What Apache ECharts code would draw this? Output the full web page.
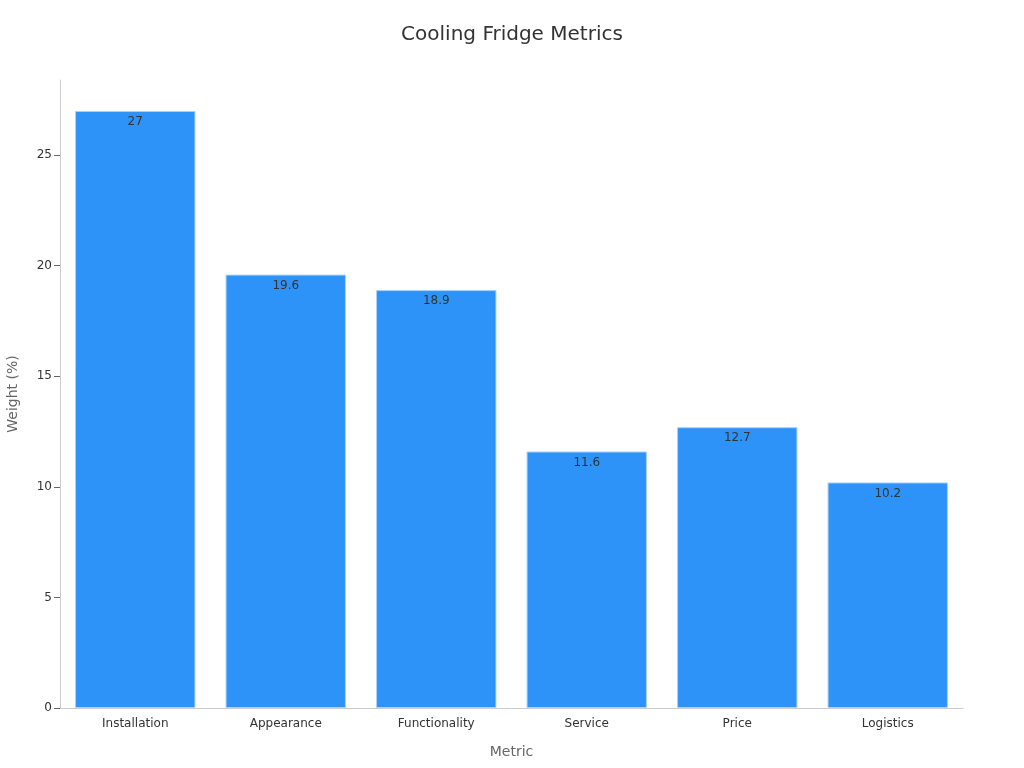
<!DOCTYPE html>
<html><head><meta charset="utf-8">
<script src="https://cdn.jsdelivr.net/npm/echarts@6/dist/echarts.min.js"></script>
<style>html,body{margin:0;padding:0;background:#fff}#c{width:1024px;height:768px}</style>
</head><body><div id="c"></div>
<script>
const categories = ["Installation","Appearance","Functionality","Service","Price","Logistics"];
const weights = [27, 19.6, 18.9, 11.6, 12.7, 10.2];
const yTicks = [0, 5, 10, 15, 20, 25];

const chart = echarts.init(document.getElementById('c'), null, {renderer:'canvas'});
chart.setOption({
  backgroundColor:'#fff',
  textStyle:{fontFamily:'DejaVu Sans'},
  title:{text:'Cooling Fridge Metrics', left:'center', top:20,
    textStyle:{fontSize:20, fontWeight:'normal', color:'#333', fontFamily:'DejaVu Sans'}},
  grid:{left:60, right:61, top:80, bottom:60, containLabel:false, outerBoundsMode:'none'},
  xAxis:{type:'category', data:categories, name:'Metric', nameLocation:'middle', nameGap:37,
    nameTextStyle:{fontSize:14, color:'#666'},
    axisLine:{lineStyle:{color:'#ccc'}},
    axisTick:{alignWithLabel:true, length:5, lineStyle:{color:'#999'}},
    axisLabel:{color:'#333', fontSize:12, margin:10}},
  yAxis:{type:'value', min:0, max:28.4, interval:5, name:'Weight (%)', nameLocation:'middle', nameGap:40,
    nameTextStyle:{fontSize:14, color:'#666'},
    axisLine:{show:true, lineStyle:{color:'#ccc'}},
    axisTick:{show:true, length:6, lineStyle:{color:'#666'}},
    splitLine:{show:false},
    axisLabel:{color:'#333', fontSize:12, margin:8, showMaxLabel:false,
      formatter:v => yTicks.includes(v) ? String(v) : ''}},
  series:[{type:'bar', data:weights, barCategoryGap:'20%',
    itemStyle:{color:'#2E93F9', borderColor:'#A8D1FB', borderWidth:1},
    label:{show:true, position:'insideTop', color:'#333', fontSize:12, offset:[0,0]}}]
});
</script></body></html>
